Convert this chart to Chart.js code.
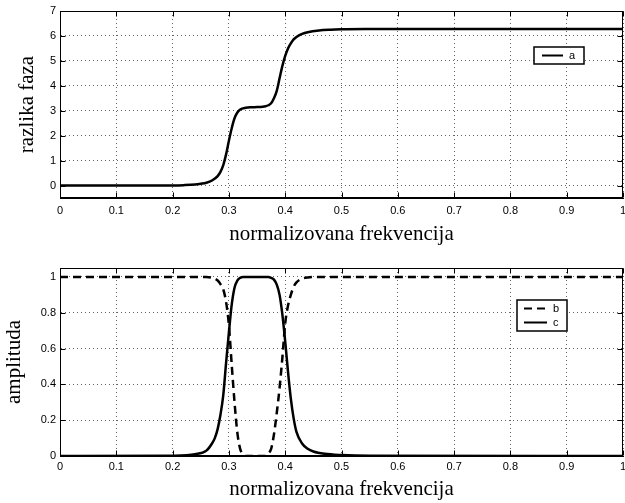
<!DOCTYPE html>
<html>
<head>
<meta charset="utf-8">
<title>razlika faza / amplituda</title>
<script src="https://cdn.jsdelivr.net/npm/chart.js"></script>
<style>
  html, body { margin: 0; padding: 0; background: #fff; }
  #wrap { position: relative; width: 625px; height: 503px; }
  canvas { position: absolute; left: 0; }
</style>
</head>
<body>
<div id="wrap">
  <canvas id="phaseChart" width="625" height="252" style="top:0"></canvas>
  <canvas id="ampChart" width="625" height="251" style="top:252px"></canvas>
</div>
<script>
// gornji graf: razlika faza (a)
const freqA  = [0, 0.2, 0.22, 0.24, 0.25, 0.26, 0.27, 0.28, 0.285, 0.29, 0.295, 0.30, 0.305, 0.31, 0.315, 0.32, 0.33, 0.34, 0.35, 0.36, 0.365, 0.37, 0.375, 0.38, 0.385, 0.39, 0.395, 0.40, 0.405, 0.41, 0.415, 0.42, 0.43, 0.44, 0.46, 0.48, 0.5, 0.55, 0.6, 1];
const phaseA = [0, 0.005, 0.015, 0.04, 0.07, 0.11, 0.2, 0.38, 0.55, 0.82, 1.25, 1.8, 2.3, 2.7, 2.93, 3.05, 3.12, 3.14, 3.145, 3.16, 3.18, 3.22, 3.3, 3.5, 3.8, 4.3, 4.8, 5.2, 5.5, 5.7, 5.86, 5.96, 6.08, 6.15, 6.22, 6.25, 6.265, 6.277, 6.28, 6.283];

// donji graf: amplitude (b, c)
const freqB = [0, 0.26, 0.27, 0.28, 0.285, 0.29, 0.295, 0.30, 0.305, 0.31, 0.315, 0.32, 0.325, 0.33, 0.365, 0.37, 0.375, 0.38, 0.385, 0.39, 0.395, 0.40, 0.405, 0.41, 0.415, 0.42, 0.43, 0.44, 0.46, 1];
const ampB  = [1, 1, 0.995, 0.98, 0.96, 0.93, 0.86, 0.73, 0.51, 0.3, 0.13, 0.04, 0.01, 0, 0, 0.015, 0.04, 0.12, 0.24, 0.38, 0.55, 0.74, 0.84, 0.9, 0.945, 0.97, 0.99, 0.997, 1, 1];

const freqC = [0, 0.2, 0.24, 0.26, 0.27, 0.275, 0.28, 0.285, 0.29, 0.295, 0.30, 0.305, 0.31, 0.315, 0.32, 0.325, 0.37, 0.375, 0.38, 0.385, 0.39, 0.395, 0.40, 0.405, 0.41, 0.415, 0.42, 0.43, 0.44, 0.45, 0.47, 0.5, 0.55, 1];
const ampC  = [0, 0.002, 0.01, 0.03, 0.07, 0.1, 0.15, 0.23, 0.34, 0.52, 0.69, 0.845, 0.94, 0.98, 0.995, 1, 1, 0.995, 0.985, 0.957, 0.9, 0.79, 0.64, 0.47, 0.32, 0.21, 0.135, 0.07, 0.04, 0.025, 0.012, 0.005, 0.001, 0];

const toPts = (xs, ys) => xs.map((x, i) => ({ x: x, y: ys[i] }));
const fmt = v => String(Number(v.toFixed(2)));

const sans = '"Liberation Sans", Arial, Helvetica, sans-serif';
const serif = '"Liberation Serif", "Times New Roman", serif';

// okvir, unutrasnje crtice i legenda
function framePlugin(leg) {
  return {
    id: 'frame',
    afterDraw(chart) {
      const { ctx, chartArea: a } = chart;
      const sx = chart.scales.x, sy = chart.scales.y;
      const L = Math.round(a.left) + 0.5, R = Math.round(a.right) - 0.5;
      const T = Math.round(a.top) + 0.5, B = Math.round(a.bottom) - 0.5;
      ctx.save();
      ctx.setLineDash([]);
      ctx.strokeStyle = '#000';
      ctx.lineWidth = 1;
      ctx.strokeRect(L, T, R - L, B - T);
      ctx.beginPath();
      sx.ticks.forEach(t => {
        const px = Math.round(sx.getPixelForValue(t.value)) + 0.5;
        ctx.moveTo(px, B); ctx.lineTo(px, B - 5);
        ctx.moveTo(px, T); ctx.lineTo(px, T + 5);
      });
      sy.ticks.forEach(t => {
        const py = Math.round(sy.getPixelForValue(t.value)) + 0.5;
        ctx.moveTo(L, py); ctx.lineTo(L + 5, py);
        ctx.moveTo(R, py); ctx.lineTo(R - 5, py);
      });
      ctx.stroke();

      // legenda
      ctx.fillStyle = '#fff';
      ctx.fillRect(leg.x, leg.y, leg.w, leg.h);
      ctx.lineWidth = 1.5;
      ctx.strokeRect(leg.x, leg.y, leg.w, leg.h);
      chart.data.datasets.forEach((ds, i) => {
        const yy = leg.rows[i];
        ctx.setLineDash(ds.borderDash || []);
        ctx.lineWidth = 2;
        ctx.beginPath();
        ctx.moveTo(leg.x0, yy); ctx.lineTo(leg.x1, yy);
        ctx.stroke();
        ctx.setLineDash([]);
        ctx.fillStyle = '#000';
        ctx.font = '11px ' + sans;
        ctx.textBaseline = 'middle';
        ctx.textAlign = 'left';
        ctx.fillText(ds.label, leg.tx, yy);
      });
      ctx.restore();
    }
  };
}

function axisX(tickPad, titlePad, h) {
  return {
    type: 'linear', min: 0, max: 1,
    ticks: { stepSize: 0.1, color: '#000', font: { family: sans, size: 11 }, padding: tickPad, maxRotation: 0, autoSkip: false, callback: fmt },
    grid: { color: 'rgba(0,0,0,0.6)', lineWidth: 1, drawTicks: false },
    border: { display: true, color: '#000', width: 1, dash: [1, 3] },
    title: { display: true, text: 'normalizovana frekvencija', color: '#000', font: { family: serif, size: 21 }, padding: { top: 0, bottom: titlePad } },
    afterFit: s => { s.height = h; s.paddingLeft = 0; s.paddingRight = 0; }
  };
}

function axisY(min, max, step, label, titlePad) {
  return {
    min: min, max: max,
    ticks: { stepSize: step, includeBounds: false, color: '#000', font: { family: sans, size: 11 }, padding: 4, callback: fmt },
    grid: { color: 'rgba(0,0,0,0.6)', lineWidth: 1, drawTicks: false },
    border: { display: true, color: '#000', width: 1, dash: [1, 3] },
    title: { display: true, text: label, color: '#000', font: { family: serif, size: 21 }, padding: { top: titlePad, bottom: 0 } },
    afterFit: s => { s.width = 60; s.paddingTop = 0; s.paddingBottom = 0; }
  };
}

const lineDs = (label, pts, dash) => ({
  label: label,
  data: pts,
  borderColor: '#000',
  borderWidth: 2.5,
  borderDash: dash,
  pointRadius: 0,
  fill: false,
  tension: 0.4,
  cubicInterpolationMode: 'monotone'
});

const common = {
  responsive: false,
  animation: false,
  plugins: { legend: { display: false }, tooltip: { enabled: false } }
};

new Chart(document.getElementById('phaseChart'), {
  type: 'line',
  data: { datasets: [lineDs('a', toPts(freqA, phaseA), [])] },
  options: Object.assign({}, common, {
    layout: { padding: { top: 11, right: 2, left: 0, bottom: 0 } },
    scales: { x: axisX(6, 5, 54), y: axisY(-0.5, 7, 1, 'razlika faza', 15) }
  }),
  plugins: [framePlugin({ x: 534, y: 47, w: 50, h: 17, x0: 542, x1: 563, tx: 569, rows: [55.5] })]
});

new Chart(document.getElementById('ampChart'), {
  type: 'line',
  data: { datasets: [lineDs('b', toPts(freqB, ampB), [8, 5]), lineDs('c', toPts(freqC, ampC), [])] },
  options: Object.assign({}, common, {
    layout: { padding: { top: 16, right: 2, left: 0, bottom: 0 } },
    scales: { x: axisX(4, 1, 47), y: axisY(0, 1.05, 0.2, 'amplituda', 1.5) }
  }),
  plugins: [framePlugin({ x: 517, y: 48, w: 50, h: 31, x0: 524, x1: 547, tx: 553, rows: [56.5, 70.5] })]
});
</script>
</body>
</html>
